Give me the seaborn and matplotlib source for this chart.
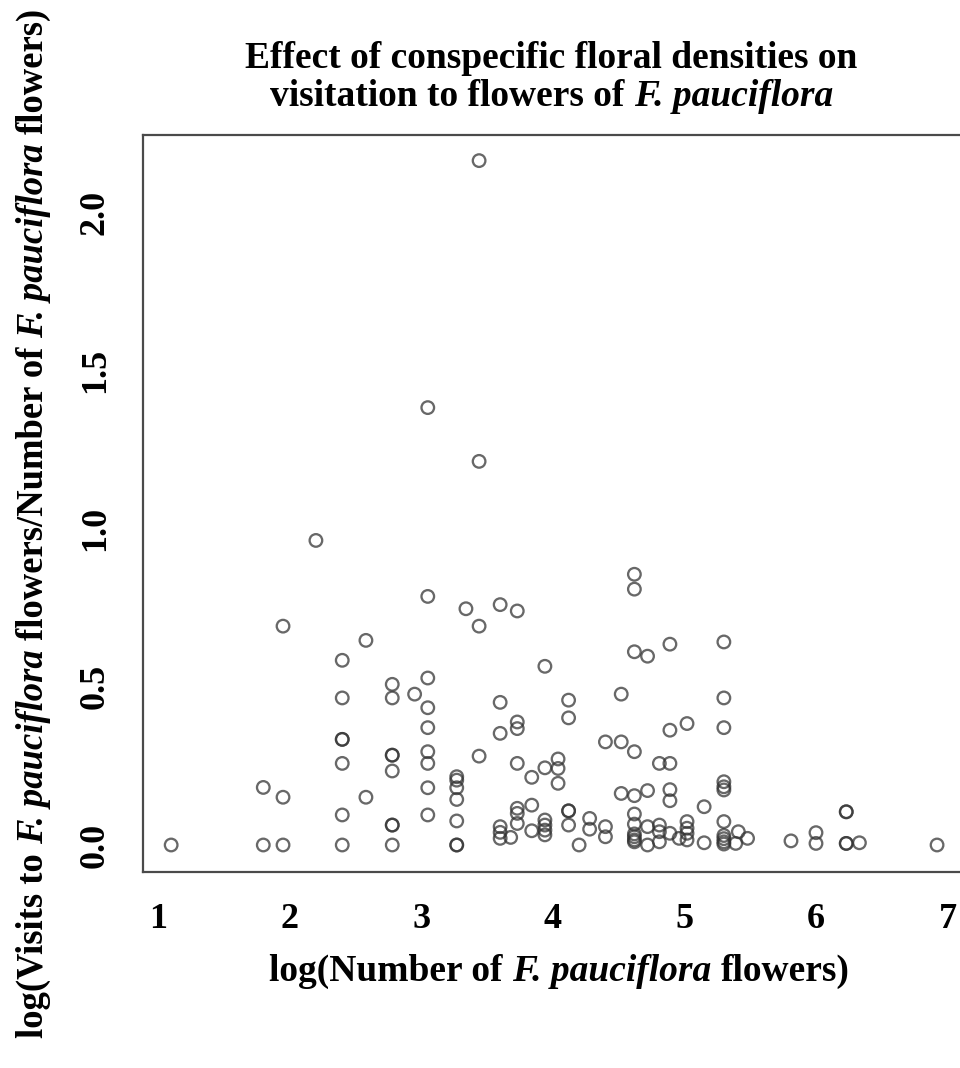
import matplotlib
matplotlib.use("Agg")
import matplotlib.pyplot as plt
import seaborn as sns
import pandas as pd
from matplotlib.transforms import IdentityTransform

# log(number of F. pauciflora flowers) per plot
log_flowers = [
    1.10,
    1.80, 1.80,
    1.95, 1.95, 1.95,
    2.20,
    2.40, 2.40, 2.40, 2.40, 2.40, 2.40, 2.40,
    2.58, 2.58,
    2.78, 2.78, 2.78, 2.78, 2.78, 2.78, 2.78, 2.78,
    2.95,
    3.05, 3.05, 3.05, 3.05, 3.05, 3.05, 3.05, 3.05, 3.05,
    3.27, 3.27, 3.27, 3.27, 3.27, 3.27, 3.27,
    3.34,
    3.44, 3.44, 3.44, 3.44,
    3.60, 3.60, 3.60, 3.60, 3.60, 3.60,
    3.68,
    3.73, 3.73, 3.73, 3.73, 3.73, 3.73, 3.73,
    3.84, 3.84, 3.84,
    3.94, 3.94, 3.94, 3.94, 3.94, 3.94,
    4.04, 4.04, 4.04,
    4.12, 4.12, 4.12, 4.12, 4.12,
    4.20,
    4.28, 4.28,
    4.40, 4.40, 4.40,
    4.52, 4.52, 4.52,
    4.62, 4.62, 4.62, 4.62, 4.62, 4.62, 4.62, 4.62, 4.62, 4.62, 4.62,
    4.72, 4.72, 4.72, 4.72,
    4.81, 4.81, 4.81, 4.81,
    4.89, 4.89, 4.89, 4.89, 4.89, 4.89,
    4.96,
    5.02, 5.02, 5.02, 5.02, 5.02,
    5.15, 5.15,
    5.30, 5.30, 5.30, 5.30, 5.30, 5.30, 5.30, 5.30, 5.30, 5.30, 5.30,
    5.39,
    5.41,
    5.48,
    5.81,
    6.00, 6.00,
    6.23, 6.23, 6.23, 6.23,
    6.33,
    6.92,
]

# log(visits to F. pauciflora flowers / number of F. pauciflora flowers)
log_visit_rate = [
    0.000,
    0.000, 0.182,
    0.000, 0.151, 0.692,
    0.963,
    0.000, 0.095, 0.258, 0.334, 0.334, 0.465, 0.584,
    0.151, 0.647,
    0.000, 0.063, 0.063, 0.234, 0.284, 0.284, 0.465, 0.508,
    0.477,
    0.095, 0.181, 0.258, 0.295, 0.371, 0.434, 0.528, 0.786, 1.383,
    0.000, 0.000, 0.076, 0.144, 0.181, 0.205, 0.216,
    0.747,
    0.281, 0.692, 1.213, 2.164,
    0.021, 0.040, 0.058, 0.353, 0.451, 0.760,
    0.024,
    0.068, 0.100, 0.116, 0.258, 0.368, 0.389, 0.740,
    0.045, 0.126, 0.214,
    0.032, 0.047, 0.063, 0.079, 0.244, 0.565,
    0.195, 0.242, 0.272,
    0.063, 0.108, 0.108, 0.402, 0.458,
    0.000,
    0.050, 0.084,
    0.026, 0.058, 0.326,
    0.163, 0.326, 0.477,
    0.010, 0.016, 0.026, 0.035, 0.066, 0.098, 0.156, 0.295, 0.611, 0.809, 0.856,
    0.000, 0.058, 0.172, 0.597,
    0.010, 0.042, 0.063, 0.258,
    0.037, 0.140, 0.175, 0.258, 0.363, 0.635,
    0.021,
    0.016, 0.037, 0.053, 0.074, 0.384,
    0.007, 0.121,
    0.003, 0.010, 0.020, 0.030, 0.074, 0.174, 0.184, 0.200, 0.371, 0.465, 0.642,
    0.005,
    0.042,
    0.021,
    0.013,
    0.005, 0.039,
    0.005, 0.005, 0.105, 0.105,
    0.007,
    0.000,
]

x_ticks = [1, 2, 3, 4, 5, 6, 7]
y_ticks = [0.0, 0.5, 1.0, 1.5, 2.0]
y_tick_labels = ["0.0", "0.5", "1.0", "1.5", "2.0"]

SPECIES = "F. pauciflora"
title_line1 = [("Effect of conspecific floral densities on", "normal")]
title_line2 = [("visitation to flowers of", "normal"), (" ", None), (SPECIES, "italic")]
x_label = [("log(Number of", "normal"), (" ", None), (SPECIES, "italic"),
           (" ", None), ("flowers)", "normal")]
y_label = [("log(Visits to", "normal"), (" ", None), (SPECIES, "italic"),
           (" ", None), ("flowers/Number of", "normal"), (" ", None),
           (SPECIES, "italic"), (" ", None), ("flowers)", "normal")]

df = pd.DataFrame({"flowers": log_flowers, "rate": log_visit_rate})

sns.set_theme(style="white")
plt.rcParams["font.family"] = ["Liberation Serif", "DejaVu Serif"]
plt.rcParams["font.weight"] = "bold"

W, H = 960, 1068
FS = 27
YLAB_FS = 26.4
TICK_FS = 26
frame_col = "#4a4a4a"

fig = plt.figure(figsize=(W / 100, H / 100), dpi=100)
fig.patch.set_facecolor("white")
ax = fig.add_axes([0.14896, 0.18352, 0.8573, 0.69007])
ax.set_facecolor("white")

sns.scatterplot(
    data=df, x="flowers", y="rate", ax=ax,
    marker="o", s=82, facecolor="none", edgecolor="#333333",
    linewidth=1.65, alpha=0.74, legend=False,
)

ax.set_xlim(0.886, 7.14)
ax.set_ylim(-0.0854, 2.245)

ax.set_xticks(x_ticks)
ax.set_xticklabels([str(t) for t in x_ticks], fontsize=TICK_FS, fontweight="bold")
ax.set_yticks(y_ticks)
ax.set_yticklabels(y_tick_labels, fontsize=TICK_FS, fontweight="bold",
                   rotation=90, va="center")
ax.set_xlabel("")
ax.set_ylabel("")

for sp in ax.spines.values():
    sp.set_visible(True)
    sp.set_color(frame_col)
    sp.set_linewidth(1.6)

ax.tick_params(axis="both", direction="out", length=9.5, width=1.5,
               color=frame_col, labelcolor="black")
ax.tick_params(axis="x", pad=13)
ax.tick_params(axis="y", pad=13)

# Mixed upright / italic labels, laid out piece by piece in pixel space
renderer = fig.canvas.get_renderer()
pix = IdentityTransform()


def _width(s, size, style):
    t = fig.text(0, 0, s, fontsize=size, fontweight="bold",
                 fontstyle=style, transform=pix)
    w = t.get_window_extent(renderer).width
    t.remove()
    return w


def _space(size):
    return _width("n n", size, "normal") - _width("nn", size, "normal")


def rich_text(pieces, cx, base, size, rotation=0):
    """Centre a run of text pieces on (cx, base) given in top-left pixels.

    For rotation=90, cx is the vertical centre and base the baseline x;
    the text then reads from bottom to top.
    """
    widths = [_space(size) if style is None else _width(s, size, style)
              for s, style in pieces]
    pos = -sum(widths) / 2
    for (s, style), w in zip(pieces, widths):
        if style is not None:
            if rotation == 0:
                xy = (cx + pos, H - base)
            else:
                xy = (base, H - cx + pos)
            fig.text(*xy, s, transform=pix, fontsize=size, fontweight="bold",
                     fontstyle=style, ha="left", va="baseline",
                     rotation=rotation, rotation_mode="anchor", color="black")
        pos += w


rich_text(title_line1, 551, 68, FS)
rich_text(title_line2, 552, 106, FS)
rich_text(x_label, 559, 981, FS)
rich_text(y_label, 523, 43, YLAB_FS, rotation=90)

fig.savefig("out.png", dpi=100, facecolor="white")
